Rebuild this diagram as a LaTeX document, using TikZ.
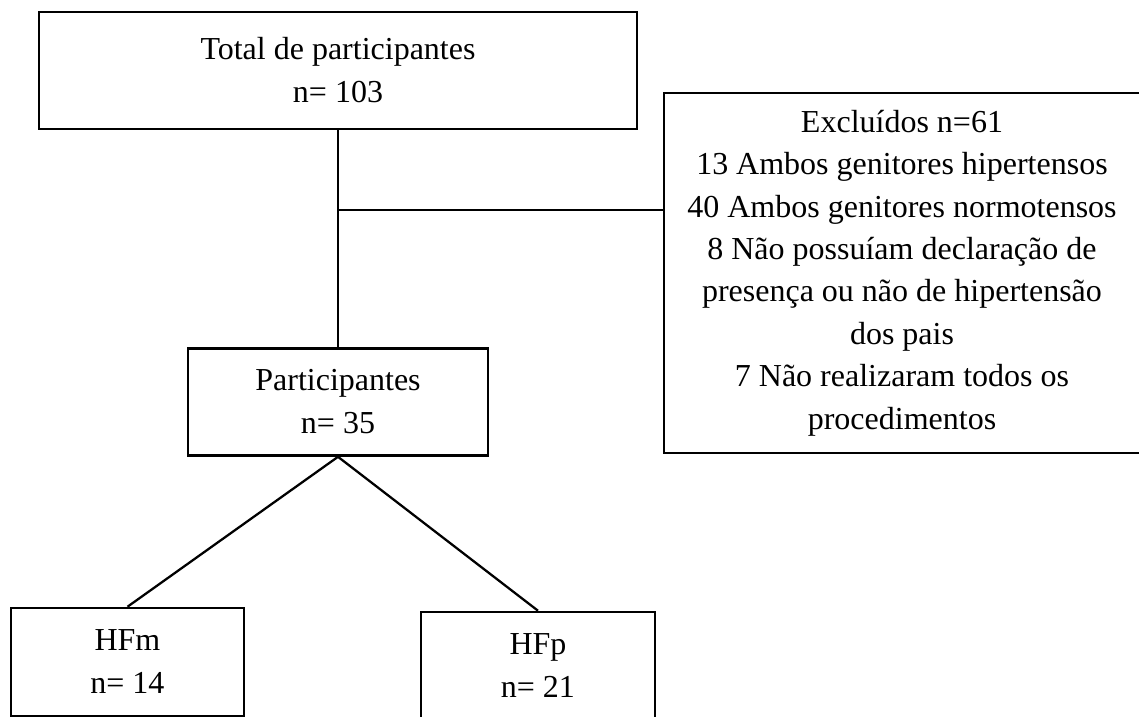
\documentclass[tikz,border=0pt]{standalone}
\usepackage{fontspec}
\setmainfont{Liberation Serif}
\usepackage{tikz}
\usetikzlibrary{positioning}

\begin{document}
\begin{tikzpicture}[
    x=0.75pt, y=-0.75pt,
    caixa/.style={
        rectangle, draw=black, fill=white, line width=1.9pt, align=center,
        inner sep=0pt, font=\fontsize{24}{32.25}\selectfont
    },
    liga/.style={
        line width=1.7pt, draw=black
    }
]
\useasboundingbox (0,0) rectangle (1139,717);
\clip (0,0) rectangle (1139,717);

% Caixas
\node[caixa, minimum width=448.5pt, minimum height=87.75pt] (total) at (338,70.5) {
    Total de participantes\\
    n= 103
};

\node[caixa, below=162.75pt of total, minimum width=225pt, minimum height=80.25pt] (part) {
    Participantes\\
    n= 35
};

\node[caixa, minimum width=357pt, minimum height=270pt, font=\fontsize{24}{31.8}\selectfont] (excl) at (902,273) {
    Excluídos n=61\\
    13 Ambos genitores hipertensos\\
    40 Ambos genitores normotensos\\
    8 Não possuíam declaração de\\
    presença ou não de hipertensão\\
    dos pais\\
    7 Não realizaram todos os\\
    procedimentos
};

\node[caixa, minimum width=174.75pt, minimum height=81pt] (hfm) at (127.5,662) {
    HFm\\
    n= 14
};

\node[caixa, minimum width=175.5pt, minimum height=80.25pt] (hfp) at (538,665.5) {
    HFp\\
    n= 21
};

% Ligacoes
\coordinate (juncao) at (total.south |- 0,210);
\draw[liga] (total) -- (part);
\draw[liga] (juncao) -- (juncao -| excl.west);
\draw[liga] (part.south) -- (hfm.north);
\draw[liga] (part.south) -- (hfp.north);

\end{tikzpicture}
\end{document}
